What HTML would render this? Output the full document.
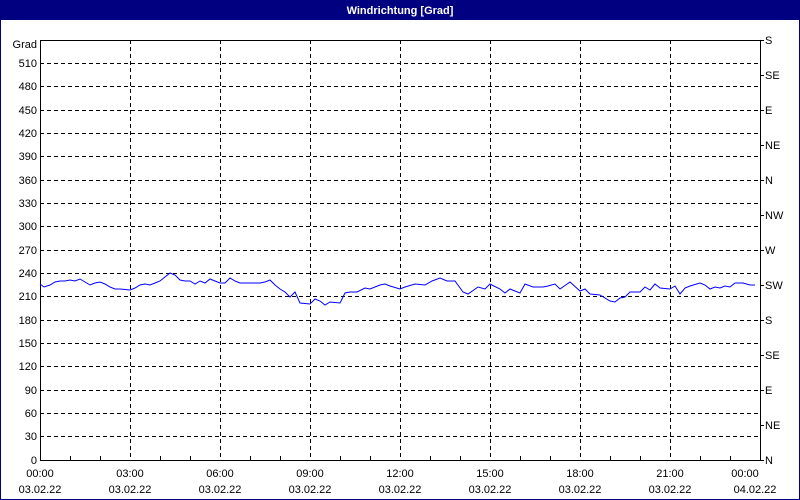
<!DOCTYPE html>
<html><head><meta charset="utf-8"><style>
html,body{margin:0;padding:0;background:#fff;}
svg{display:block;font-family:"Liberation Sans",sans-serif;font-size:11px;}
</style></head><body>
<svg width="800" height="500" xmlns="http://www.w3.org/2000/svg">
<rect x="0" y="0" width="800" height="500" fill="#fff"/>
<rect x="0.5" y="0.5" width="799" height="499" fill="none" stroke="#000080"/>
<rect x="0" y="0" width="800" height="20" fill="#000080"/>
<text x="400" y="14" fill="#fff" font-weight="bold" text-anchor="middle">Windrichtung [Grad]</text>
<g stroke="#000" stroke-dasharray="4,3" stroke-width="1">
<line x1="40" y1="63.5" x2="760" y2="63.5"/><line x1="40" y1="86.5" x2="760" y2="86.5"/><line x1="40" y1="110.5" x2="760" y2="110.5"/><line x1="40" y1="133.5" x2="760" y2="133.5"/><line x1="40" y1="156.5" x2="760" y2="156.5"/><line x1="40" y1="180.5" x2="760" y2="180.5"/><line x1="40" y1="203.5" x2="760" y2="203.5"/><line x1="40" y1="226.5" x2="760" y2="226.5"/><line x1="40" y1="250.5" x2="760" y2="250.5"/><line x1="40" y1="273.5" x2="760" y2="273.5"/><line x1="40" y1="296.5" x2="760" y2="296.5"/><line x1="40" y1="320.5" x2="760" y2="320.5"/><line x1="40" y1="343.5" x2="760" y2="343.5"/><line x1="40" y1="366.5" x2="760" y2="366.5"/><line x1="40" y1="390.5" x2="760" y2="390.5"/><line x1="40" y1="413.5" x2="760" y2="413.5"/><line x1="40" y1="436.5" x2="760" y2="436.5"/>
<line x1="130.5" y1="40" x2="130.5" y2="460"/><line x1="220.5" y1="40" x2="220.5" y2="460"/><line x1="310.5" y1="40" x2="310.5" y2="460"/><line x1="400.5" y1="40" x2="400.5" y2="460"/><line x1="490.5" y1="40" x2="490.5" y2="460"/><line x1="580.5" y1="40" x2="580.5" y2="460"/><line x1="670.5" y1="40" x2="670.5" y2="460"/>
</g>
<rect x="40.5" y="40.5" width="720" height="420" fill="none" stroke="#000"/>
<g stroke="#000">
<path d="M70.5 460v-4M100.5 460v-4M160.5 460v-4M190.5 460v-4M250.5 460v-4M280.5 460v-4M340.5 460v-4M370.5 460v-4M430.5 460v-4M460.5 460v-4M520.5 460v-4M550.5 460v-4M610.5 460v-4M640.5 460v-4M700.5 460v-4M730.5 460v-4"/>
<path d="M760 40.5h4M760 75.5h4M760 110.5h4M760 145.5h4M760 180.5h4M760 215.5h4M760 250.5h4M760 285.5h4M760 320.5h4M760 355.5h4M760 390.5h4M760 425.5h4M760 460.5h4"/>
</g>
<g text-anchor="end" fill="#000">
<text x="37" y="48">Grad</text>
<text x="37" y="67">510</text><text x="37" y="90">480</text><text x="37" y="114">450</text><text x="37" y="137">420</text><text x="37" y="160">390</text><text x="37" y="184">360</text><text x="37" y="207">330</text><text x="37" y="230">300</text><text x="37" y="254">270</text><text x="37" y="277">240</text><text x="37" y="300">210</text><text x="37" y="324">180</text><text x="37" y="347">150</text><text x="37" y="370">120</text><text x="37" y="394">90</text><text x="37" y="417">60</text><text x="37" y="440">30</text><text x="37" y="464">0</text>
</g>
<g fill="#000">
<text x="765" y="44">S</text><text x="765" y="79">SE</text><text x="765" y="114">E</text><text x="765" y="149">NE</text><text x="765" y="184">N</text><text x="765" y="219">NW</text><text x="765" y="254">W</text><text x="765" y="289">SW</text><text x="765" y="324">S</text><text x="765" y="359">SE</text><text x="765" y="394">E</text><text x="765" y="429">NE</text><text x="765" y="464">N</text>
</g>
<g text-anchor="middle" fill="#000">
<text x="40" y="477">00:00</text><text x="130" y="477">03:00</text><text x="220" y="477">06:00</text><text x="310" y="477">09:00</text><text x="400" y="477">12:00</text><text x="490" y="477">15:00</text><text x="580" y="477">18:00</text><text x="670" y="477">21:00</text><text x="745" y="477">00:00</text>
<text x="40" y="493">03.02.22</text><text x="130" y="493">03.02.22</text><text x="220" y="493">03.02.22</text><text x="310" y="493">03.02.22</text><text x="400" y="493">03.02.22</text><text x="490" y="493">03.02.22</text><text x="580" y="493">03.02.22</text><text x="670" y="493">03.02.22</text><text x="755" y="493">04.02.22</text>
</g>
<polyline fill="none" stroke="#0000ff" stroke-width="1" points="40,284 44,287 50,285 55,282 60,281 65,281 70,280 75,281 80,279 85,282 90,285 95,283 100,282 105,284 110,287 115,289 120,289 130,290 135,288 140,285 145,284 150,285 155,283 160,281 165,277 170,273 175,275 180,280 185,281 190,281 195,284 200,281 205,283 210,279 215,281 220,283 225,283 230,278 235,281 240,283 250,283 260,283 265,282 270,280 275,285 280,289 285,292 290,297 295,292 300,303 310,304 315,299 320,301 325,305 330,302 340,303 345,293 350,292 357,292 365,288 370,289 380,285 385,284 390,286 400,289 405,287 415,284 425,285 432,281 440,278 447,281 455,281 463,292 468,294 478,287 485,289 490,284 500,289 505,293 510,289 520,293 525,284 533,287 543,287 548,286 555,284 560,289 570,282 580,291 585,289 590,294 600,295 610,301 615,302 620,298 625,297 630,292 640,292 645,287 650,290 655,284 660,288 670,289 675,286 680,294 685,288 690,286 700,283 705,285 710,289 715,287 720,288 725,286 730,287 735,283 743,283 750,285 755,285"/>
</svg>
</body></html>
